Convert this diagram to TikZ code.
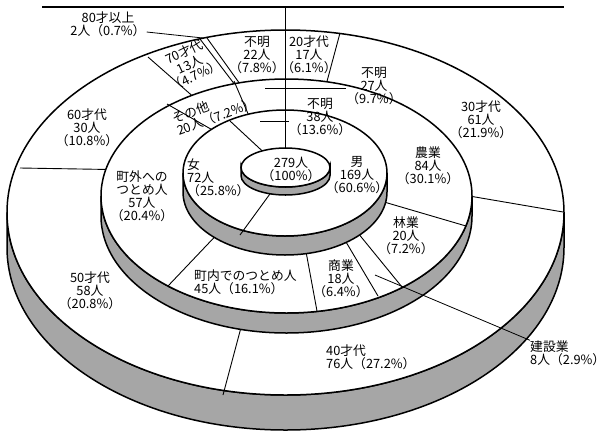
\documentclass[tikz,border=0pt]{standalone}
\usepackage{fontspec}
\setmainfont{Noto Sans CJK JP}
\usetikzlibrary{calc}

\begin{document}
\begin{tikzpicture}[x=1pt,y=-1pt]
\tikzstyle{rim}=[draw=black,line width=1.5pt]
\tikzstyle{wall}=[rim,fill=black!35]
\tikzstyle{face}=[rim,fill=white]
\tikzstyle{cut}=[draw=black,line width=0.9pt]
\tikzstyle{lead}=[draw=black,line width=0.8pt]
\tikzstyle{lab}=[font=\fontsize{12.8}{13}\selectfont,align=center,inner sep=0pt]
\useasboundingbox (0,0) rectangle (605,437);
% top rule
\draw[line width=1.2pt] (42,7) -- (564,7);
% age ring
\path[wall] (7,212.5) -- (7,247.5) arc[start angle=180,end angle=0,x radius=278.5,y radius=182.5]
  -- (564,212.5) arc[start angle=0,end angle=180,x radius=278.5,y radius=182.5] -- cycle;
\path[face] (285.5,212.5) ellipse[x radius=278.5,y radius=182.5];
\draw[cut] (340,33) -- (322,100);
\draw[cut] (563,212) -- (440,191);
\draw[cut] (223,395) -- (247,305);
\draw[cut] (20,168) -- (140,170);
\draw[cut] (148,57) -- (205,107);
\draw[cut] (200,39) -- (245,98);
\draw[cut] (207,38) -- (250,98);
% job ring
\path[wall] (101,196) -- (101,216) arc[start angle=180,end angle=0,x radius=185.5,y radius=117]
  -- (472,196) arc[start angle=0,end angle=180,x radius=185.5,y radius=117] -- cycle;
\path[face] (286.5,196) ellipse[x radius=185.5,y radius=117];
\draw[cut] (466,226) -- (350,192);
\draw[cut] (402,287) -- (340,211);
\draw[cut] (378,296) -- (333,220);
\draw[cut] (317,311) -- (302,230);
\draw[cut] (168,286) -- (225,226);
\draw[cut] (167,104) -- (230,140);
\draw[cut] (234,81) -- (255,130);
% sex ring
\path[wall] (183,173) -- (183,192) arc[start angle=180,end angle=0,x radius=102,y radius=63]
  -- (387,173) arc[start angle=0,end angle=180,x radius=102,y radius=63] -- cycle;
\path[face] (285,173) ellipse[x radius=102,y radius=63];
\draw[cut] (240,235) -- (275,187);
\draw[cut] (230,121) -- (272,160);
% total
\path[wall] (241,167.5) -- (241,175.5) arc[start angle=180,end angle=0,x radius=44.5,y radius=19.5]
  -- (330,167.5) arc[start angle=0,end angle=180,x radius=44.5,y radius=19.5] -- cycle;
\path[face] (285.5,167.5) ellipse[x radius=44.5,y radius=19.5];
\draw[cut] (285,7) -- (285,148);
% labels
\node[lab] (all) at (291,169) {279人\\（100\%）};
\node[lab] (male) at (357,175) {男\\169人\\（60.6\%）};
\node[lab,align=left,anchor=west] (female) at (187,178) {女\\72人\\（25.8\%）};
\node[lab] (nosex) at (320,117) {不明\\38人\\（13.6\%）};
\node[lab] (farm) at (428,166) {農業\\84人\\（30.1\%）};
\node[lab] (forest) at (406,236) {林業\\20人\\（7.2\%）};
\node[lab] (shop) at (341,279) {商業\\18人\\（6.4\%）};
\node[lab,align=left,anchor=west] (build) at (530,353) {建設業\\8人（2.9\%）};
\node[lab,align=left,anchor=west] (townin) at (194,282) {町内でのつとめ人\\45人（16.1\%）};
\node[lab] (townout) at (142,196) {町外への\\つとめ人\\57人\\（20.4\%）};
\node[lab,align=left,rotate=20] (other) at (214,111) {その他\\20人（7.2\%）};
\node[lab] (nojob) at (374,86) {不明\\27人\\（9.7\%）};
\node[lab] (age20) at (309,55) {20才代\\17人\\（6.1\%）};
\node[lab] (age30) at (481,120) {30才代\\61人\\（21.9\%）};
\node[lab,align=left,anchor=west] (age40) at (326,357) {40才代\\76人（27.2\%）};
\node[lab] (age50) at (90,291) {50才代\\58人\\（20.8\%）};
\node[lab] (age60) at (87,128) {60才代\\30人\\（10.8\%）};
\node[lab,rotate=25] (age70) at (190,64) {70才代\\13人\\（4.7\%）};
\node[lab] (age80) at (108,24) {80才以上\\2人（0.7\%）};
\node[lab] (agenone) at (257,55) {不明\\22人\\（7.8\%）};
% leaders
\coordinate (p38) at (260,121);
\coordinate (p27) at (265,88);
\coordinate (p8) at (375,275);
\coordinate (p2) at (203,38);
\draw[lead] (p38) -- (p38 -| nosex.west);
\draw[lead] (p27) -- (p27 -| nojob.west);
\draw[lead] (p8) -- (build.north west);
\draw[lead] (p2) -- ($(age80.east)+(1,8)$);
\end{tikzpicture}
\end{document}
